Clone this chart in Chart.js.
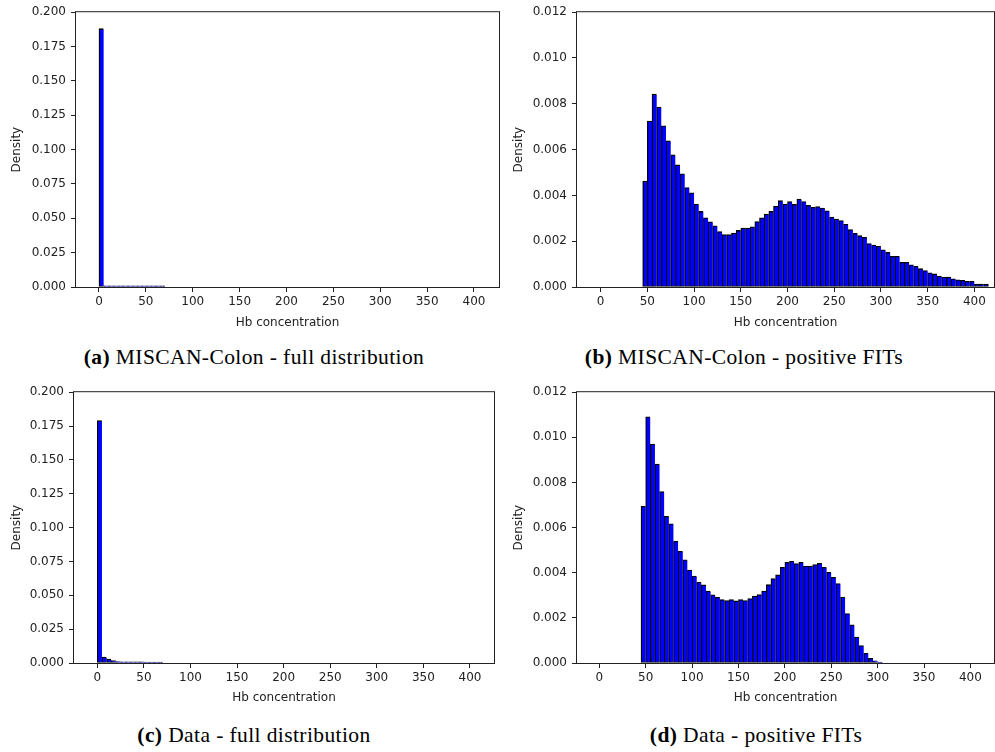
<!DOCTYPE html>
<html>
<head>
<meta charset="utf-8">
<script src="https://cdn.jsdelivr.net/npm/chart.js@4.4.1/dist/chart.umd.min.js"></script>
<style>
  body { margin: 0; background: #fff; width: 995px; height: 752px; position: relative; overflow: hidden; }
  canvas { position: absolute; }
  .caption {
    position: absolute; width: 400px; text-align: center; white-space: nowrap;
    font-family: "Liberation Serif", serif; font-size: 21.5px; line-height: 21px;
    letter-spacing: 0.4px; color: #000;
  }
</style>
</head>
<body>
<canvas id="miscanFull" width="500" height="330" style="left:0;top:0;width:500px;height:330px"></canvas>
<canvas id="miscanPositive" width="495" height="330" style="left:500px;top:0;width:495px;height:330px"></canvas>
<canvas id="dataFull" width="500" height="330" style="left:0;top:380px;width:500px;height:330px"></canvas>
<canvas id="dataPositive" width="495" height="330" style="left:500px;top:380px;width:495px;height:330px"></canvas>

<div class="caption" style="left:54px;top:347px"><b>(a)</b> MISCAN-Colon - full distribution</div>
<div class="caption" style="left:544px;top:347px"><b>(b)</b> MISCAN-Colon - positive FITs</div>
<div class="caption" style="left:54px;top:725px"><b>(c)</b> Data - full distribution</div>
<div class="caption" style="left:556px;top:725px"><b>(d)</b> Data - positive FITs</div>

<script>
const binWidth = 5;
const fullStart = 0;
const positiveStart = 45;

// density per 5-unit bin
const miscanFull = [
  0.188, 0.0008, 0.0008, 0.0008, 0.0008, 0.0008, 0.0008, 0.0008,
  0.0008, 0.0008, 0.0008, 0.0008, 0.0008, 0.0008
];
const miscanPositive = [
  0.00462, 0.00725, 0.00842, 0.00786, 0.00704, 0.00638, 0.00577, 0.00533, 0.00494, 0.00434,
  0.00411, 0.00362, 0.00330, 0.00302, 0.00285, 0.00267, 0.00242, 0.00229, 0.00229, 0.00235,
  0.00247, 0.00257, 0.00257, 0.00263, 0.00286, 0.00302, 0.00318, 0.00330, 0.00352, 0.00377,
  0.00362, 0.00373, 0.00361, 0.00384, 0.00373, 0.00357, 0.00348, 0.00351, 0.00345, 0.00333,
  0.00305, 0.00297, 0.00290, 0.00274, 0.00251, 0.00234, 0.00224, 0.00217, 0.00190, 0.00183,
  0.00178, 0.00162, 0.00151, 0.00134, 0.00134, 0.00108, 0.00108, 0.00097, 0.00090, 0.00080,
  0.00072, 0.00062, 0.00057, 0.00048, 0.00043, 0.00043, 0.00036, 0.00031, 0.00029, 0.00025,
  0.00025, 0.00013, 0.00013, 0.00013
];
const dataFull = [
  0.179, 0.0044, 0.0029, 0.0017, 0.0010, 0.0009, 0.0009, 0.0008,
  0.0008, 0.0008, 0.0007, 0.0007, 0.0007, 0.0007
];
const dataPositive = [
  0.00694, 0.01091, 0.00970, 0.00881, 0.00760, 0.00650, 0.00617, 0.00539, 0.00495, 0.00457,
  0.00412, 0.00385, 0.00358, 0.00346, 0.00319, 0.00302, 0.00291, 0.00281, 0.00277, 0.00281,
  0.00275, 0.00281, 0.00277, 0.00286, 0.00297, 0.00303, 0.00319, 0.00347, 0.00374, 0.00391,
  0.00424, 0.00446, 0.00451, 0.00441, 0.00446, 0.00430, 0.00430, 0.00436, 0.00442, 0.00424,
  0.00402, 0.00380, 0.00352, 0.00292, 0.00219, 0.00169, 0.00115, 0.00077, 0.00043, 0.00021,
  0.00010, 0.00004
];

const xTicks = [0, 50, 100, 150, 200, 250, 300, 350, 400];
const yTicksFull = [0, 0.025, 0.05, 0.075, 0.1, 0.125, 0.15, 0.175, 0.2];
const yTicksPositive = [0, 0.002, 0.004, 0.006, 0.008, 0.01, 0.012];

Chart.defaults.font.family = "DejaVu Sans";
Chart.defaults.font.size = 12;
Chart.defaults.color = "#222";

const toBins = (start, values) =>
  values.map((y, i) => ({ x: start + binWidth * (i + 0.5), y }));

// matplotlib-style box around the axes, just outside the plot area
const spines = {
  id: "spines",
  afterDatasetsDraw: ({ ctx, chartArea: { left, top, right, bottom } }) => {
    ctx.save();
    ctx.strokeStyle = "#222";
    ctx.lineWidth = 1;
    ctx.strokeRect(left - 0.5, top - 0.5, right - left + 1, bottom - top + 1);
    ctx.restore();
  }
};

const tickGrid = {
  display: true,
  drawOnChartArea: false,
  drawTicks: true,
  tickLength: 5,
  tickColor: "#222",
  offset: false
};

const histogram = (id, values, start, yTicks, box) =>
  new Chart(id, {
    type: "bar",
    data: {
      datasets: [
        {
          data: toBins(start, values),
          backgroundColor: "#0000ff",
          borderColor: "#000",
          borderSkipped: false,
          borderWidth: ctx => ({
            left: 1.3,
            top: 1.3,
            right: ctx.dataIndex === values.length - 1 ? 1.3 : 0,
            bottom: 1
          }),
          barPercentage: 1,
          categoryPercentage: 1
        }
      ]
    },
    options: {
      responsive: false,
      animation: false,
      devicePixelRatio: 1,
      layout: { padding: { top: box.padTop, right: box.padRight, left: 0, bottom: 0 } },
      plugins: { legend: { display: false }, tooltip: { enabled: false } },
      scales: {
        x: {
          type: "linear",
          min: box.xMin,
          max: box.xMax,
          offset: false,
          afterBuildTicks: s => {
            s.ticks = xTicks.map(value => ({ value }));
          },
          afterFit: s => {
            s.height = box.xHeight;
          },
          grid: tickGrid,
          border: { display: false },
          ticks: { padding: 3, maxRotation: 0, autoSkip: false },
          title: {
            display: true,
            text: "Hb concentration",
            padding: { top: 0, bottom: box.xTitlePad }
          }
        },
        y: {
          min: 0,
          max: yTicks[yTicks.length - 1],
          afterBuildTicks: s => {
            s.ticks = yTicks.map(value => ({ value }));
          },
          afterFit: s => {
            s.width = box.yWidth;
          },
          grid: tickGrid,
          border: { display: false },
          ticks: { padding: 5, callback: v => v.toFixed(3) },
          title: {
            display: true,
            text: "Density",
            padding: { top: box.yTitlePad, bottom: 0 }
          }
        }
      }
    },
    plugins: [spines]
  });

histogram("miscanFull", miscanFull, fullStart, yTicksFull, {
  padTop: 11, padRight: 1, yWidth: 76, xHeight: 43,
  xMin: -24.5, xMax: 426.7, xTitlePad: 0, yTitlePad: 10
});
histogram("miscanPositive", miscanPositive, positiveStart, yTicksPositive, {
  padTop: 11, padRight: 1, yWidth: 77, xHeight: 43,
  xMin: -25.3, xMax: 421, xTitlePad: 0, yTitlePad: 12
});
histogram("dataFull", dataFull, fullStart, yTicksFull, {
  padTop: 11, padRight: 6, yWidth: 74, xHeight: 47,
  xMin: -25, xMax: 425.8, xTitlePad: 5, yTitlePad: 10
});
histogram("dataPositive", dataPositive, positiveStart, yTicksPositive, {
  padTop: 11, padRight: 1, yWidth: 77, xHeight: 47,
  xMin: -24, xMax: 425.4, xTitlePad: 5, yTitlePad: 12
});
</script>
</body>
</html>
